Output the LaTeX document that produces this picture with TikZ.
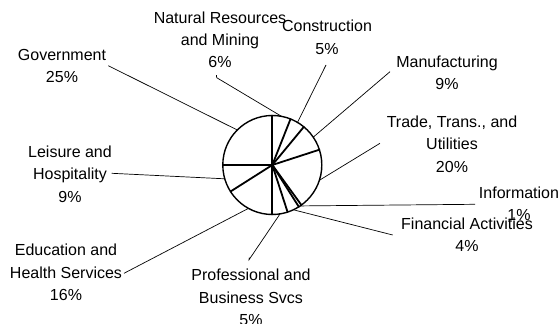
\documentclass[tikz,border=0pt]{standalone}
\usepackage{fontspec}
\setmainfont{Liberation Sans}
\usetikzlibrary{calc}
\tikzset{
  lbl/.style={anchor=north, align=center, inner sep=0pt, font=\fontsize{16}{22.3}\selectfont},
  leader/.style={line width=0.7pt, black},
  rim/.style={line width=1.4pt, black},
  spoke/.style={line width=1.8pt, black}
}
\begin{document}
\begin{tikzpicture}[x=1pt,y=1pt]
\useasboundingbox (0,0) rectangle (560,324);
\fill[white] (0,0) rectangle (560,324);
\coordinate (C) at (272.3,159);
\def\R{49.5}
% leader lines from slice middles to labels
\coordinate (pgov) at ($(C)+(135:\R)$);
\coordinate (pnat) at ($(C)+(79.2:\R)$);
\coordinate (pcon) at ($(C)+(59.4:\R)$);
\coordinate (pman) at ($(C)+(34.2:\R)$);
\coordinate (ptra) at ($(C)+(-18:\R)$);
\coordinate (pinf) at ($(C)+(-55.8:\R)$);
\coordinate (pfin) at ($(C)+(-64.8:\R)$);
\coordinate (ppro) at ($(C)+(-81:\R)$);
\coordinate (pedu) at ($(C)+(-118.8:\R)$);
\coordinate (plei) at ($(C)+(-163.8:\R)$);
\coordinate (egov) at (108.3,258.3);
\coordinate (enat) at (216.7,246.3);
\coordinate (hnat) at (216.4,248.8);
\coordinate (econ) at (326,259);
\coordinate (eman) at (390,252.3);
\coordinate (etra) at (380,180.7);
\coordinate (einf) at (475,119.7);
\coordinate (efin) at (392.7,89);
\coordinate (epro) at (249,64.2);
\coordinate (hpro) at (249.2,66.3);
\coordinate (eedu) at (124,50.7);
\coordinate (elei) at (111.7,150.7);
\draw[leader] (pgov) -- (egov);
\draw[leader] (pnat) -- (enat) -- (hnat);
\draw[leader] (pcon) -- (econ);
\draw[leader] (pman) -- (eman);
\draw[leader] (ptra) -- (etra);
\draw[leader] (pinf) -- (einf);
\draw[leader] (pfin) -- (efin);
\draw[leader] (ppro) -- (epro) -- (hpro);
\draw[leader] (pedu) -- (eedu);
\draw[leader] (plei) -- (elei);
% pie
\fill[white] (C) circle (\R);
\foreach \a in {90,68.4,50.4,18,-54,-57.6,-72,-90,-147.6,-180}
  \draw[spoke, line cap=round] (C) -- ($(C)+(\a:\R)$);
\draw[rim] (C) circle (\R);
% labels
\node[lbl] (gov) at (62,274.9) {Government\\25\%};
\node[lbl] (nat) at (220,312.6) {Natural Resources\\and Mining\\6\%};
\node[lbl] (con) at (327,303.9) {Construction\\5\%};
\node[lbl] (man) at (447,268.2) {Manufacturing\\9\%};
\node[lbl] (tra) at (452,208.2) {Trade, Trans., and\\Utilities\\20\%};
\node[lbl] (inf) at (519,137.6) {Information\\1\%};
\node[lbl] (fin) at (467,106.6) {Financial Activities\\4\%};
\node[lbl] (pro) at (251,54.9) {Professional and\\Business Svcs\\5\%};
\node[lbl] (edu) at (66,79.9) {Education and\\Health Services\\16\%};
\node[lbl] (lei) at (70,178.2) {Leisure and\\Hospitality\\9\%};
\end{tikzpicture}
\end{document}
